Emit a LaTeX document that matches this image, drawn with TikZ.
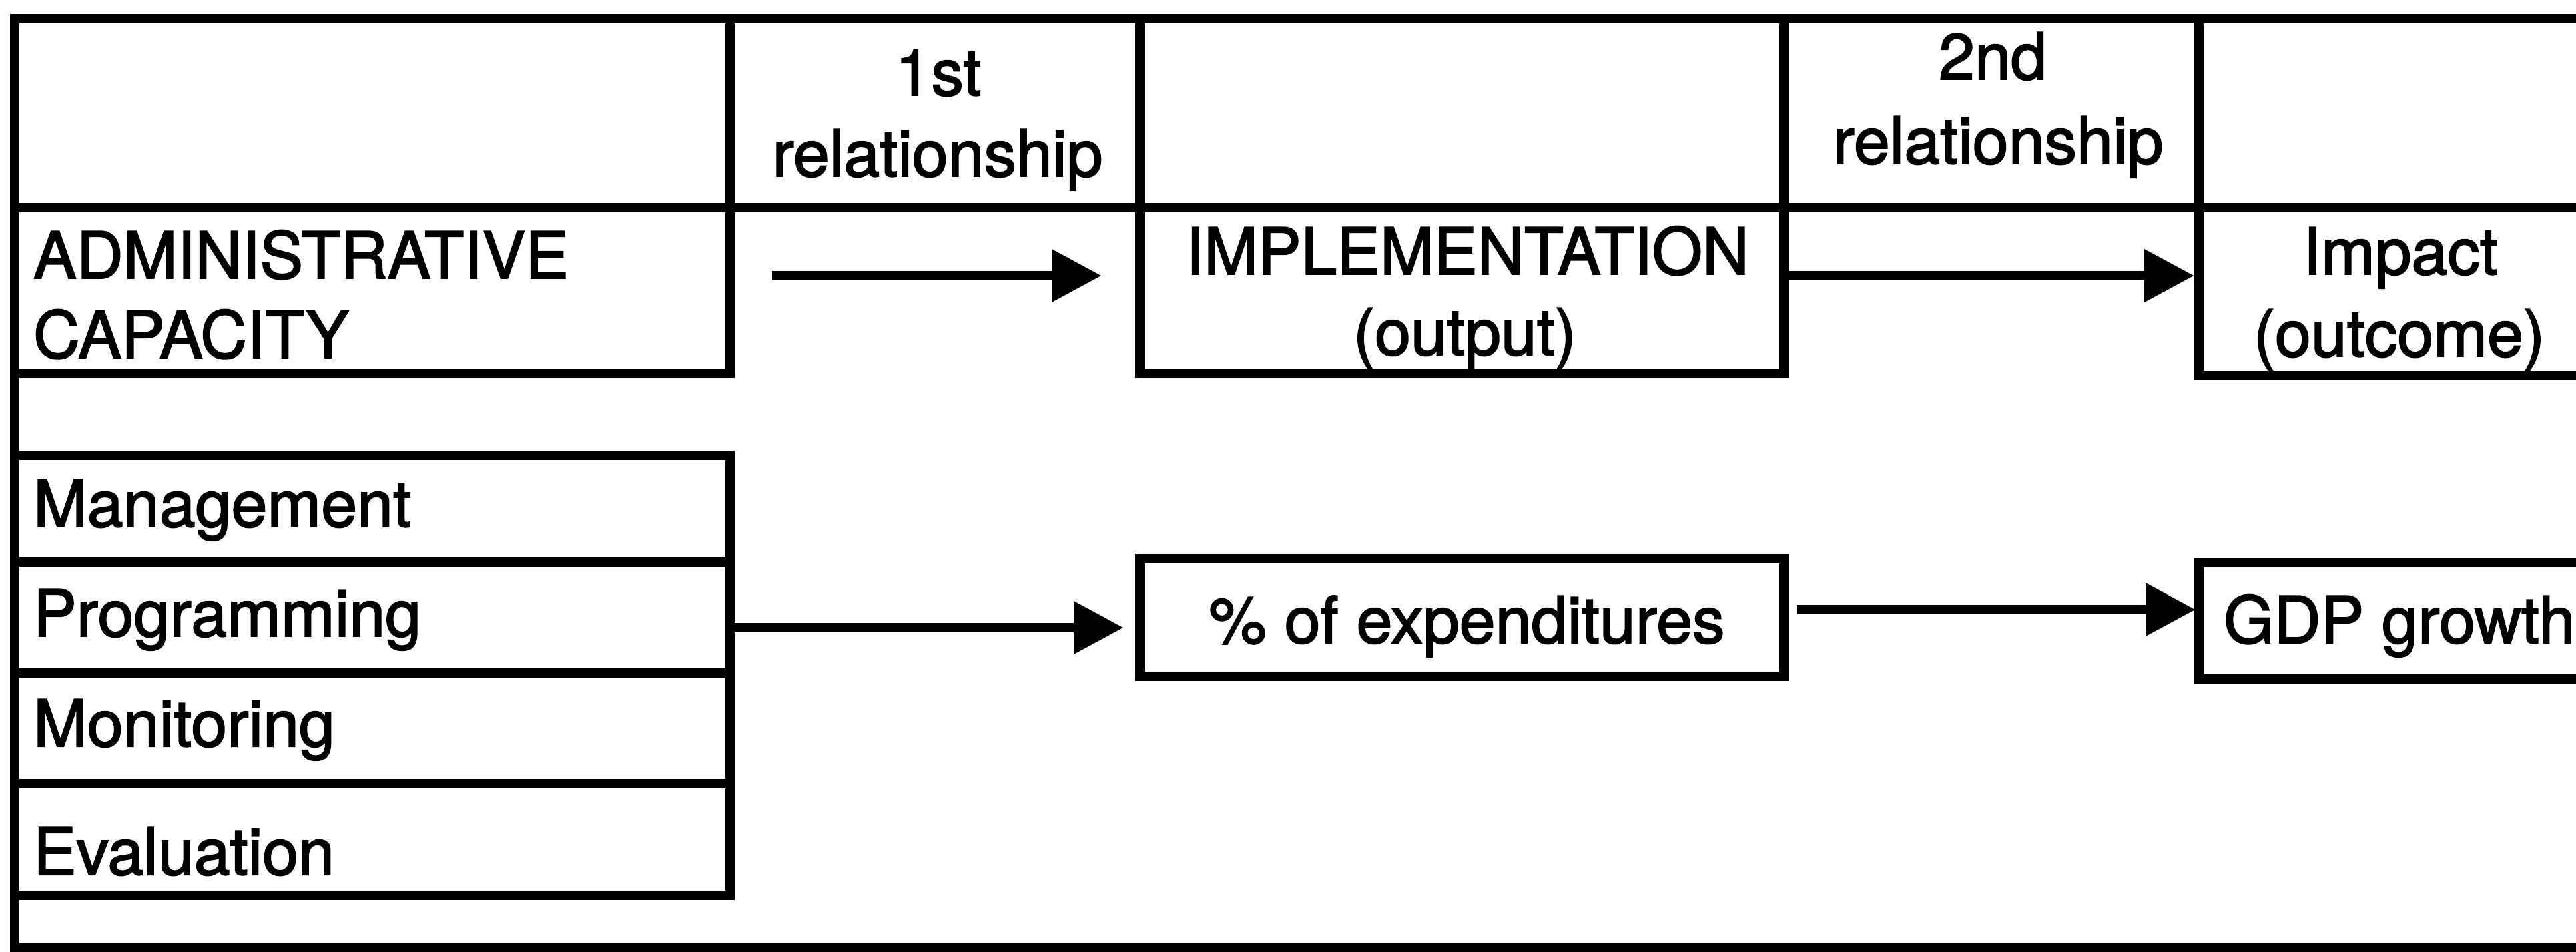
\documentclass[tikz,border=0pt]{standalone}
\usepackage{fontspec}
\setmainfont{TeX Gyre Heros}[FakeBold=2]
\usetikzlibrary{arrows.meta}

\begin{document}
\begin{tikzpicture}[x=1cm, y=-1cm,
  cell/.style={draw, rectangle, line width=1.4mm, outer sep=0pt, inner sep=0pt},
  lbl/.style={inner sep=0pt, outer sep=0pt, font=\fontsize{27.6}{33}\selectfont},
  link/.style={line width=1.4mm, -{Triangle[length=7.4mm,width=8mm,line width=0pt]}}]

\useasboundingbox (0,0) rectangle (38.6,14.25);
\clip (0,0) rectangle (38.6,14.25);

% outer frame
\node[cell, minimum width=39.28cm, minimum height=13.92cm] (frame) at (19.86,7.24) {};

% header row
\node[cell, minimum width=10.72cm, minimum height=2.83cm] (hA)    at (5.58,1.695) {};
\node[cell, minimum width=6.14cm,  minimum height=2.83cm] (hRelA) at (14.01,1.695) {};
\node[cell, minimum width=9.65cm,  minimum height=2.83cm] (hC)    at (21.905,1.695) {};
\node[cell, minimum width=6.22cm,  minimum height=2.83cm] (hRelB) at (29.84,1.695) {};
\node[cell, minimum width=6.55cm,  minimum height=2.83cm] (hE)    at (36.225,1.695) {};

\node[lbl, anchor=base] (relA1) at (14.06,1.43) {1st};
\node[lbl, anchor=base] (relA2) at (14.05,2.64) {relationship};
\node[lbl, anchor=base] (relB1) at (29.86,1.19) {2nd};
\node[lbl, anchor=base] (relB2) at (29.94,2.45) {relationship};

% concept row
\node[cell, minimum width=10.72cm, minimum height=2.48cm] (admin)  at (5.58,4.35) {};
\node[cell, minimum width=9.65cm,  minimum height=2.48cm] (impl)   at (21.905,4.35) {};
\node[cell, minimum width=6.55cm,  minimum height=2.51cm] (impact) at (36.225,4.365) {};

\node[lbl, anchor=base west] (adminA) at (0.50,4.17) {ADMINISTRATIVE};
\node[lbl, anchor=base west] (adminB) at (0.50,5.36) {CAPACITY};
\node[lbl, anchor=base] (implA)   at (21.99,4.11) {IMPLEMENTATION};
\node[lbl, anchor=base] (implB)   at (21.95,5.32) {(output)};
\node[lbl, anchor=base] (impactA) at (35.97,4.11) {Impact};
\node[lbl, anchor=base] (impactB) at (35.95,5.34) {(outcome)};

% indicator row
\node[cell, minimum width=10.72cm, minimum height=1.60cm] (mgmt) at (5.58,7.62) {};
\node[cell, minimum width=10.72cm, minimum height=1.66cm] (prog) at (5.58,9.25) {};
\node[cell, minimum width=10.72cm, minimum height=1.66cm] (moni) at (5.58,10.91) {};
\node[cell, minimum width=10.72cm, minimum height=1.67cm] (eval) at (5.58,12.575) {};
\node[cell, minimum width=9.65cm,  minimum height=1.76cm] (exp)  at (21.905,9.25) {};
\node[cell, minimum width=6.55cm,  minimum height=1.74cm] (gdp)  at (36.225,9.30) {};

\node[lbl, anchor=base west] (mgmtT) at (0.50,7.89)  {Management};
\node[lbl, anchor=base west] (progT) at (0.50,9.53)  {Programming};
\node[lbl, anchor=base west] (moniT) at (0.50,11.18) {Monitoring};
\node[lbl, anchor=base west] (evalT) at (0.50,13.10) {Evaluation};
\node[lbl, anchor=base] (expT) at (21.98,9.63) {\% of expenditures};
\node[lbl, anchor=base west] (gdpT) at (33.32,9.63) {GDP growth};

% relationships
\coordinate (r1) at ([yshift=0.22cm]admin.east);
\coordinate (r2) at ([yshift=0.22cm]impl.east);
\coordinate (r3) at ([yshift=-0.15cm]prog.east);
\coordinate (r4) at ([yshift=0.12cm]exp.east);
\draw[link, shorten <=0.63cm, shorten >=0.58cm] (r1) -- (r1 -| impl.west);
\draw[link, shorten <=0.07cm, shorten >=0.08cm] (r2) -- (r2 -| impact.west);
\draw[link, shorten <=0.05cm, shorten >=0.25cm] (r3) -- (r3 -| exp.west);
\draw[link, shorten <=0.19cm, shorten >=0.06cm] (r4) -- (r4 -| gdp.west);
\end{tikzpicture}
\end{document}
